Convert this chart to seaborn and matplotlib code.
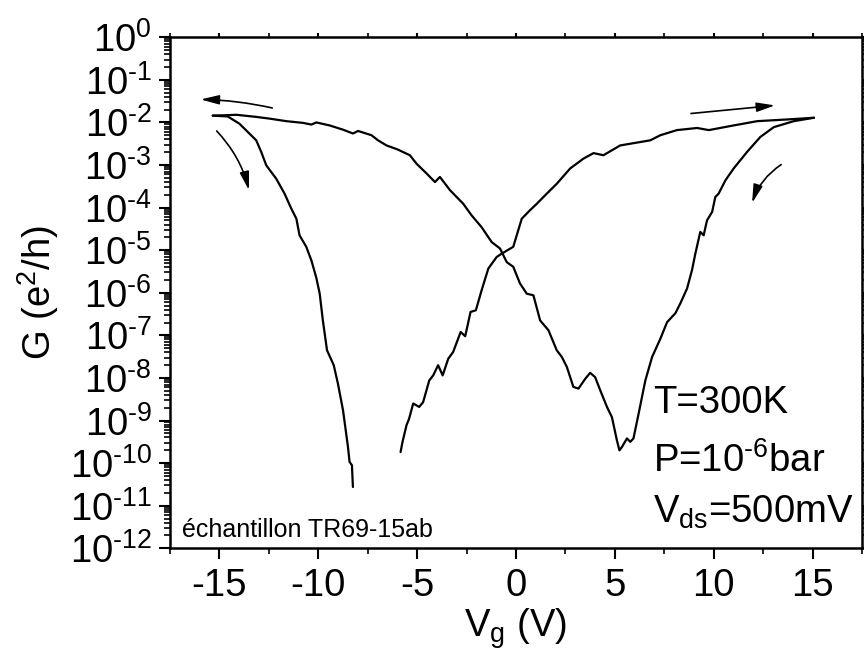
import numpy as np
import matplotlib
matplotlib.use("Agg")
import matplotlib.pyplot as plt
import seaborn as sns

# ---- data (Vg in volts, log10 of G in e^2/h) ----
# sweep 1: from -6 V up to +15 V
vg_up = [-5.84, -5.74, -5.54, -5.41, -5.20, -4.90, -4.70, -4.39, -4.19, -3.94,
         -3.71, -3.43, -3.18, -2.80, -2.57, -2.30, -2.03, -1.74, -1.40, -0.98,
         -0.72, -0.14, 0.29, 0.71, 1.05, 1.56, 2.06, 2.74, 3.41, 3.92,
         4.42, 5.27, 6.79, 7.30, 8.14, 9.16, 9.75, 11.01, 12.20, 13.72, 15.07]
logg_up = [-9.74, -9.50, -9.11, -8.96, -8.60, -8.68, -8.57, -8.06, -7.94, -7.70,
           -7.94, -7.55, -7.39, -6.92, -7.02, -6.45, -6.41, -5.94, -5.43, -5.16,
           -5.08, -4.92, -4.26, -4.06, -3.91, -3.67, -3.44, -3.08, -2.85, -2.72,
           -2.77, -2.54, -2.42, -2.30, -2.18, -2.13, -2.18, -2.07, -1.97, -1.93, -1.89]

# sweep 2: from +15 V back down to -15 V
vg_back = [15.07, 14.05, 13.04, 12.36, 11.69, 11.01, 10.59, 10.25, 10.08, 9.92,
           9.66, 9.49, 9.32, 9.07, 8.90, 8.65, 8.31, 8.06, 7.64, 7.30,
           6.88, 6.54, 6.20, 5.94, 5.78, 5.61, 5.36, 5.23, 5.10, 4.85,
           4.60, 4.26, 4.00, 3.75, 3.50, 3.16, 2.90, 2.57, 2.32, 2.06,
           1.64, 1.22, 0.88, 0.54, 0.20, -0.14, -0.47, -0.81, -1.23, -1.74,
           -2.25, -2.67, -3.34, -3.85, -4.10, -4.52, -5.03, -5.37, -6.01, -6.55,
           -6.98, -7.31, -7.99, -8.25, -8.75, -9.43, -10.10, -10.35, -10.78, -11.62,
           -12.47, -13.14, -14.15, -14.66, -15.34]
logg_back = [-1.89, -1.97, -2.11, -2.34, -2.69, -3.08, -3.36, -3.67, -3.75, -4.10,
             -4.30, -4.65, -4.57, -5.08, -5.47, -5.90, -6.25, -6.48, -6.69, -7.08,
             -7.51, -8.06, -8.84, -9.42, -9.50, -9.42, -9.62, -9.70, -9.46, -8.92,
             -8.68, -8.29, -7.98, -7.88, -8.02, -8.25, -8.21, -7.74, -7.51, -7.35,
             -6.88, -6.65, -6.06, -6.02, -5.78, -5.39, -5.28, -4.96, -4.81, -4.46,
             -4.18, -3.91, -3.59, -3.28, -3.40, -3.20, -2.97, -2.77, -2.63, -2.54,
             -2.42, -2.30, -2.20, -2.26, -2.17, -2.07, -2.00, -2.05, -2.01, -1.97,
             -1.91, -1.87, -1.82, -1.83, -1.84]

# sweep 3: from -15 V up to about -8.3 V
vg_down = [-15.34, -14.58, -13.99, -13.14, -12.89, -12.63, -12.13, -11.71, -11.37, -11.11,
           -10.95, -10.61, -10.35, -10.10, -9.93, -9.77, -9.56, -9.22, -9.01, -8.75,
           -8.50, -8.42, -8.30, -8.25]
logg_down = [-1.84, -1.86, -2.03, -2.42, -2.69, -3.01, -3.32, -3.67, -4.02, -4.26,
             -4.65, -4.92, -5.24, -5.65, -6.02, -6.65, -7.35, -7.70, -8.13, -8.76,
             -9.62, -9.97, -10.05, -10.56]

xticks = [-15, -10, -5, 0, 5, 10, 15]
xtick_labels = ["-15", "-10", "-5", "0", "5", "10", "15"]
yticks = [1e0, 1e-1, 1e-2, 1e-3, 1e-4, 1e-5, 1e-6, 1e-7, 1e-8, 1e-9, 1e-10, 1e-11, 1e-12]
ytick_labels = ["$10^{0}$", "$10^{\u20101}$", "$10^{\u20102}$", "$10^{\u20103}$", "$10^{\u20104}$",
                "$10^{\u20105}$", "$10^{\u20106}$", "$10^{\u20107}$", "$10^{\u20108}$", "$10^{\u20109}$",
                "$10^{\u201010}$", "$10^{\u201011}$", "$10^{\u201012}$"]

sns.set_theme(style="ticks")
plt.rcParams["font.family"] = ["Liberation Sans", "DejaVu Sans"]
plt.rcParams["mathtext.fontset"] = "custom"
plt.rcParams["mathtext.rm"] = "Liberation Sans"
plt.rcParams["mathtext.it"] = "Liberation Sans"
plt.rcParams["mathtext.bf"] = "Liberation Sans:bold"
plt.rcParams["axes.unicode_minus"] = False
plt.rcParams["text.color"] = "black"
plt.rcParams["axes.labelcolor"] = "black"
plt.rcParams["xtick.color"] = "black"
plt.rcParams["ytick.color"] = "black"

fig = plt.figure(figsize=(8.64, 6.55), dpi=100)
ax = fig.add_axes([0.1968, 0.1629, 0.8009, 0.7802])

for vg, lg in ((vg_up, logg_up), (vg_back, logg_back), (vg_down, logg_down)):
    sns.lineplot(x=np.array(vg), y=10 ** np.array(lg), sort=False, estimator=None,
                 color="black", lw=1.6, ax=ax)

ax.set_yscale("log")
ax.set_xlim(-17.5, 17.5)
ax.set_ylim(1e-12, 1)

ax.set_xticks(xticks)
ax.set_xticklabels(xtick_labels)
ax.set_xticks(np.arange(-17.5, 17.6, 5), minor=True)
ax.set_yticks(yticks)
ax.set_yticklabels(ytick_labels)
ax.yaxis.set_minor_locator(matplotlib.ticker.LogLocator(base=10, subs=np.arange(2, 10), numticks=100))
ax.yaxis.set_minor_formatter(matplotlib.ticker.NullFormatter())

for sp in ax.spines.values():
    sp.set_linewidth(1.8)
    sp.set_color("black")

ax.tick_params(axis="both", which="major", direction="out", length=8, width=1.5,
               labelsize=27.5, colors="black", pad=5)
ax.tick_params(axis="both", which="minor", direction="out", length=4.5, width=1.2, colors="black")
ax.tick_params(axis="x", which="major", pad=6)
ax.tick_params(top=True, right=True, which="both")
for t in ax.xaxis.get_ticklines(minor=False)[1::2] + ax.xaxis.get_ticklines(minor=True)[1::2]:
    t.set_markersize(3)
for t in ax.yaxis.get_ticklines(minor=False)[1::2] + ax.yaxis.get_ticklines(minor=True)[1::2]:
    t.set_markersize(3)

ax.set_xlabel(r"V$_{\mathrm{g}}$ (V)", fontsize=27.5, labelpad=2, color="black")
ax.set_ylabel(r"G (e$^{2}$/h)", fontsize=27.5, labelpad=6, color="black")
ax.grid(False)

# annotations
ax.text(0.698, 0.265, "T=300K", transform=ax.transAxes, fontsize=27.5, va="baseline",
        ha="left", color="black")
ax.text(0.698, 0.149, "P=10$^{\u20106}$bar", transform=ax.transAxes, fontsize=27.5,
        va="baseline", ha="left", color="black")
ax.text(0.698, 0.0495, r"V$_{\mathrm{ds}}$=500mV", transform=ax.transAxes, fontsize=27.5,
        va="baseline", ha="left", color="black")
ax.text(0.017, 0.0227, "échantillon TR69-15ab", transform=ax.transAxes, fontsize=18,
        va="baseline", ha="left", color="black")

arrow_style = "-|>,head_length=0.55,head_width=0.14"
arrows = [
    ((-12.33, -1.66), (-15.95, -1.46), 0.05),
    ((-15.14, -2.20), (-13.51, -3.59), -0.13),
    ((8.85, -1.79), (13.10, -1.60), 0.0),
    ((13.41, -2.99), (11.94, -3.89), 0.17),
]
for (tx, ty), (hx, hy), rad in arrows:
    ax.annotate("", xy=(hx, 10 ** hy), xytext=(tx, 10 ** ty), xycoords="data",
                arrowprops=dict(arrowstyle=arrow_style, color="black", lw=1.2,
                                mutation_scale=20, shrinkA=0, shrinkB=0,
                                connectionstyle=f"arc3,rad={rad}"))

fig.savefig("out.png", dpi=100)
